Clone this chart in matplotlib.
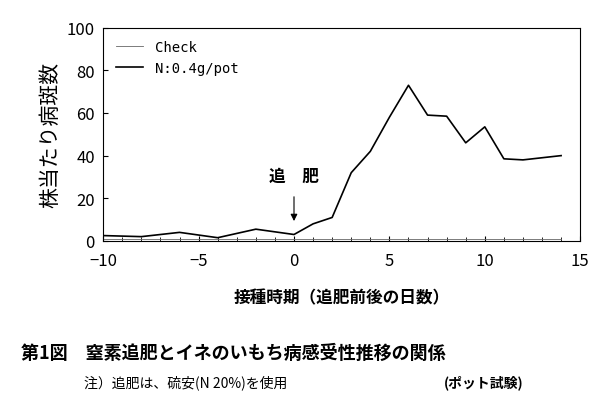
import matplotlib.pyplot as plt
plt.rcParams['font.family'] = ['Noto Sans CJK JP', 'DejaVu Sans']

days = [-10, -8, -6, -4, -2, 0, 1, 2, 3, 4, 5, 6, 7, 8, 9, 10, 11, 12, 14]
n_vals = [2.5, 2, 4, 1.5, 5.5, 3, 8, 11, 32, 42, 58, 73, 59, 58.5, 46, 53.5, 38.5, 38, 40]
check_vals = [1, 1, 1, 1, 1, 1, 1, 1, 1, 1, 1, 1, 1, 1, 1, 1, 1, 1, 1]

fig = plt.figure(figsize=(6, 4.1), dpi=100)
ax = fig.add_axes([0.172, 0.41, 0.795, 0.52])
ax.plot(days, check_vals, color='#666666', lw=0.6, label='Check')
ax.plot(days, n_vals, color='black', lw=1.2, label='N:0.4g/pot')
ax.set_xlim(-10, 15)
ax.set_ylim(0, 100)
ax.set_xticks([-10, -5, 0, 5, 10, 15])
ax.set_xticks(range(-10, 16), minor=True)
ax.set_yticks(range(0, 101, 20))
ax.tick_params(labelsize=12, direction='in')
ax.tick_params(axis='x', pad=8)
ax.tick_params(axis='y', pad=6)
ax.tick_params(which='minor', direction='in', length=3)
ax.set_ylabel('株当たり病斑数', fontsize=15)
ax.set_xlabel('接種時期（追肥前後の日数）', fontsize=12, fontweight='bold', labelpad=14)
ax.legend(loc='upper left', frameon=False, prop={'family': 'DejaVu Sans Mono', 'size': 10})
ax.annotate('', xy=(0, 8), xytext=(0, 22), arrowprops=dict(arrowstyle='-|>', color='black', lw=0.8))
ax.text(0, 28, '追　肥', ha='center', fontsize=12, fontweight='bold')
fig.text(0.035, 0.125, '第1図　窒素追肥とイネのいもち病感受性推移の関係', fontsize=13, fontweight='bold')
fig.text(0.14, 0.055, '注）追肥は、硫安(N 20%)を使用', fontsize=10)
fig.text(0.74, 0.055, '(ポット試験)', fontsize=10, fontweight='bold')
fig.savefig('out.png')
